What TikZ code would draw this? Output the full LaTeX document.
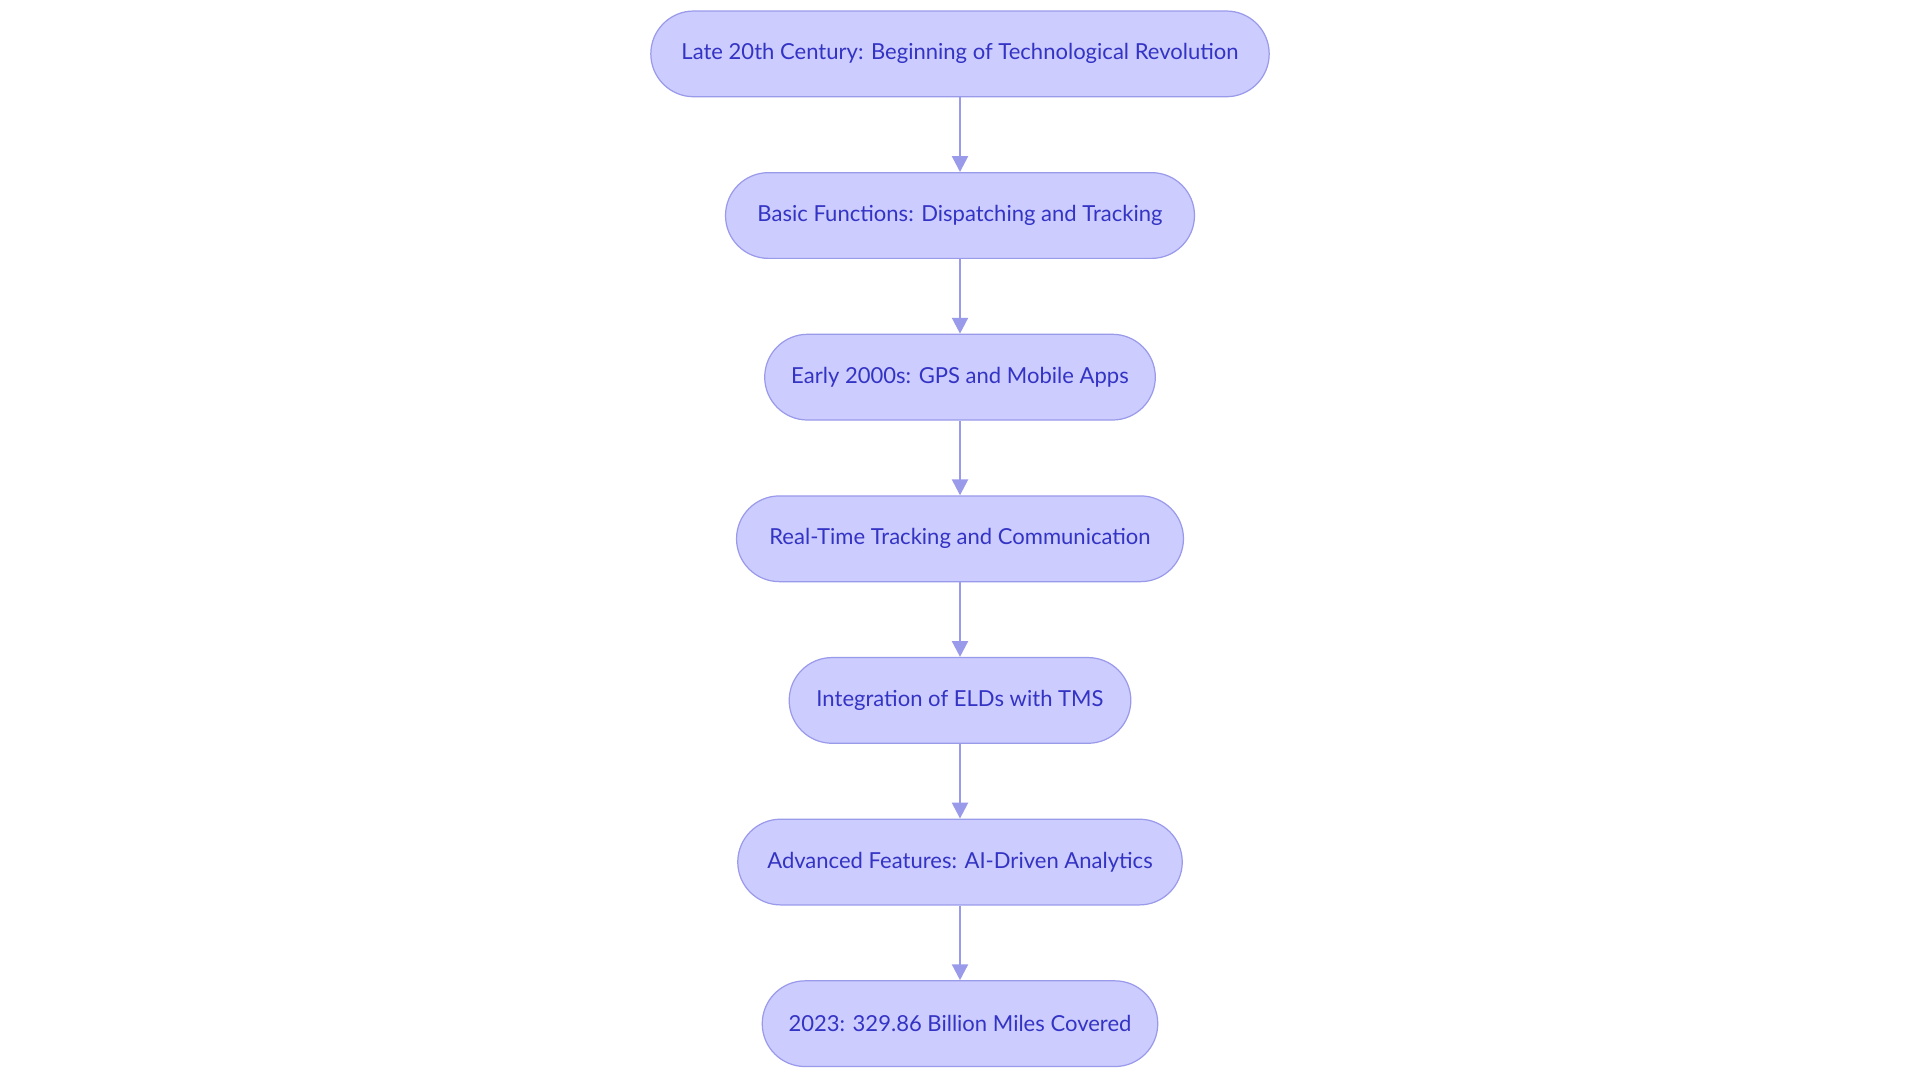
\documentclass[tikz,border=0pt]{standalone}
\usepackage{fontspec}
\setmainfont{Lato}
\usetikzlibrary{arrows.meta}
\definecolor{nfill}{HTML}{CCCCFF}
\definecolor{nline}{HTML}{9A9AEB}
\definecolor{ntext}{HTML}{3333C4}
\begin{document}
\begin{tikzpicture}[x=1pt,y=1pt,
  box/.style={draw=nline,fill=nfill,line width=1pt,rounded corners=35pt,minimum height=70pt,text=ntext,font=\fontsize{18}{20}\selectfont,inner sep=0pt},
  arr/.style={draw=nline,line width=2pt,-{Triangle[length=13pt,width=13pt]}}]
\useasboundingbox (0,0) rectangle (1568,-884);
\node[box,minimum width=505pt] (n1) at (784,-44) {Late 20th Century: Beginning of Technological Revolution};
\node[box,minimum width=383pt] (n2) at (784,-176) {Basic Functions: Dispatching and Tracking};
\node[box,minimum width=319pt] (n3) at (784,-308) {Early 2000s: GPS and Mobile Apps};
\node[box,minimum width=365pt] (n4) at (784,-440) {Real-Time Tracking and Communication};
\node[box,minimum width=279pt] (n5) at (784,-572) {Integration of ELDs with TMS};
\node[box,minimum width=363pt] (n6) at (784,-704) {Advanced Features: AI-Driven Analytics};
\node[box,minimum width=323pt] (n7) at (784,-836) {2023: 329.86 Billion Miles Covered};
\foreach \a/\b in {n1/n2,n2/n3,n3/n4,n4/n5,n5/n6,n6/n7} \draw[arr] (\a) -- (\b);
\end{tikzpicture}
\end{document}
